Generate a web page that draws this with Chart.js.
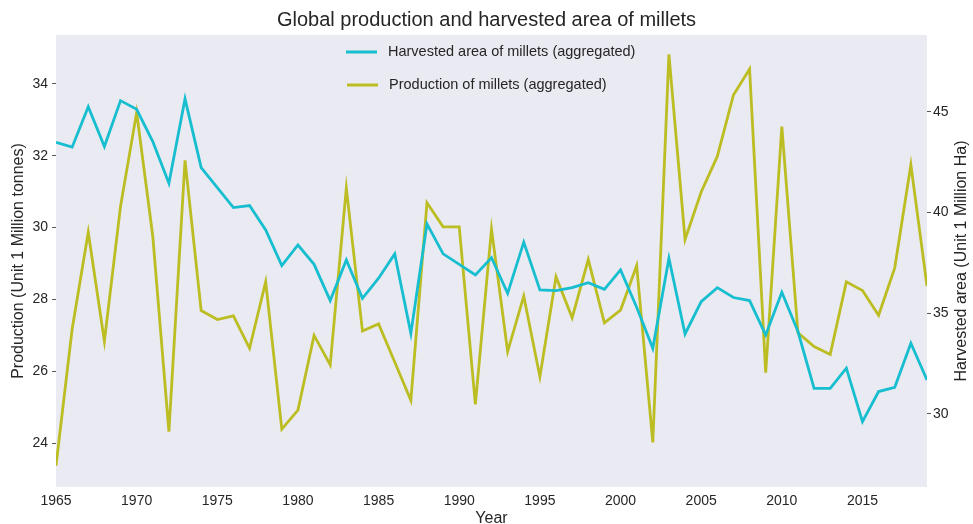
<!DOCTYPE html>
<html>
<head>
<meta charset="utf-8">
<script src="https://cdn.jsdelivr.net/npm/chart.js@4.4.1/dist/chart.umd.min.js"></script>
<style>
  html, body { margin: 0; padding: 0; background: #fff; }
  #wrap { width: 973px; height: 524px; }
</style>
</head>
<body>
<div id="wrap"><canvas id="chart" width="973" height="524"></canvas></div>
<script>
const years = [1965,1966,1967,1968,1969,1970,1971,1972,1973,1974,1975,1976,1977,1978,1979,1980,1981,1982,1983,1984,
               1985,1986,1987,1988,1989,1990,1991,1992,1993,1994,1995,1996,1997,1998,1999,2000,2001,2002,2003,2004,
               2005,2006,2007,2008,2009,2010,2011,2012,2013,2014,2015,2016,2017,2018,2019];

// harvested area, million ha (right axis)
const areaVals = [43.49,43.25,45.26,43.28,45.56,45.13,43.53,41.46,45.65,42.23,41.24,40.25,40.35,39.14,37.37,38.39,37.43,35.63,37.65,35.74,
                  36.74,37.95,34.00,39.44,37.95,37.43,36.90,37.76,35.99,38.53,36.16,36.12,36.27,36.52,36.19,37.15,35.30,33.26,37.73,33.97,
                  35.58,36.27,35.78,35.63,33.92,36.04,34.09,31.27,31.27,32.27,29.62,31.11,31.32,33.51,31.69];

// production, million tonnes (left axis)
const prodVals = [23.37,27.17,29.87,26.84,30.59,33.20,29.76,24.32,31.87,27.69,27.44,27.54,26.64,28.49,24.39,24.92,27.00,26.18,31.10,27.12,
                  27.32,26.26,25.19,30.69,30.02,30.02,25.08,29.96,26.55,28.09,25.85,28.63,27.49,29.11,27.35,27.70,28.94,24.02,34.82,29.67,
                  30.99,31.98,33.69,34.41,25.96,32.81,27.07,26.69,26.47,28.49,28.25,27.56,28.88,31.75,28.37];

const yearTicks = [1965,1970,1975,1980,1985,1990,1995,2000,2005,2010,2015];
const prodTicks = [24,26,28,30,32,34];
const areaTicks = [30,35,40,45];

const FONT = "Arial, 'Liberation Sans', sans-serif";
const INK = '#262626';
const rightTitle = 'Harvested area (Unit 1 Million Ha)';

const toPts = (vals) => vals.map((v, i) => ({ x: years[i], y: v }));
const useTicks = (arr) => (scale) => { scale.ticks = arr.map(v => ({ value: v })); };

// legend drawn inside the plot, like the matplotlib one
const innerLegend = {
  id: 'innerLegend',
  afterDraw(chart) {
    const ctx = chart.ctx;
    ctx.save();
    chart.data.datasets.forEach((ds, i) => {
      const y = 52 + i * 33;
      ctx.strokeStyle = ds.borderColor;
      ctx.lineWidth = 3;
      ctx.beginPath();
      ctx.moveTo(346 + i, y);
      ctx.lineTo(377 + i, y);
      ctx.stroke();
      ctx.fillStyle = INK;
      ctx.font = '14.5px ' + FONT;
      ctx.textBaseline = 'middle';
      ctx.fillText(ds.label, 388 + i, y);
    });
    ctx.restore();
  }
};

// right axis title reads bottom-to-top in the original
const rightAxisTitle = {
  id: 'rightAxisTitle',
  afterDraw(chart) {
    const ctx = chart.ctx, a = chart.chartArea;
    ctx.save();
    ctx.translate(962, (a.top + a.bottom) / 2);
    ctx.rotate(-Math.PI / 2);
    ctx.fillStyle = INK;
    ctx.font = '16px ' + FONT;
    ctx.textAlign = 'center';
    ctx.textBaseline = 'middle';
    ctx.fillText(rightTitle, 0, 0);
    ctx.restore();
  }
};

const plotBg = {
  id: 'plotBg',
  beforeDraw(chart) {
    const a = chart.chartArea;
    chart.ctx.save();
    chart.ctx.fillStyle = '#EAEAF2';
    chart.ctx.fillRect(a.left, a.top, a.right - a.left, a.bottom - a.top);
    chart.ctx.restore();
  }
};

new Chart(document.getElementById('chart'), {
  type: 'line',
  data: {
    datasets: [
      { label: 'Harvested area of millets (aggregated)', data: toPts(areaVals), yAxisID: 'y1',
        borderColor: '#17BECF', borderWidth: 2.8, pointRadius: 0, tension: 0 },
      { label: 'Production of millets (aggregated)', data: toPts(prodVals), yAxisID: 'y',
        borderColor: '#BCBD22', borderWidth: 2.8, pointRadius: 0, tension: 0 }
    ]
  },
  options: {
    responsive: false,
    animation: false,
    layout: { padding: 0 },
    plugins: {
      legend: { display: false },
      tooltip: { enabled: false },
      title: {
        display: true,
        text: 'Global production and harvested area of millets',
        color: INK,
        font: { family: FONT, size: 20, weight: 'normal' },
        padding: { top: 8, bottom: 3 }
      }
    },
    scales: {
      x: {
        type: 'linear', min: 1965, max: 2019,
        afterBuildTicks: useTicks(yearTicks),
        afterFit: (s) => { s.height = 37; },
        grid: { display: false, drawTicks: false },
        border: { display: false },
        ticks: { color: INK, padding: 6, font: { family: FONT, size: 14 }, callback: (v) => String(v), maxRotation: 0 },
        title: { display: true, text: 'Year', color: INK, font: { family: FONT, size: 16 }, padding: { top: 0, bottom: -4 } }
      },
      y: {
        position: 'left', min: 22.78, max: 35.36,
        afterBuildTicks: useTicks(prodTicks),
        afterFit: (s) => { s.width = 56; },
        grid: { display: true, drawOnChartArea: false, drawTicks: true, tickLength: 4, tickColor: '#555', tickWidth: 1 },
        border: { display: false },
        ticks: { color: INK, padding: 4, font: { family: FONT, size: 14 } },
        title: { display: true, text: 'Production (Unit 1 Million tonnes)', color: INK, font: { family: FONT, size: 16 }, padding: { top: 9, bottom: 0 } }
      },
      y1: {
        position: 'right', min: 26.37, max: 48.82,
        afterBuildTicks: useTicks(areaTicks),
        afterFit: (s) => { s.width = 46; },
        grid: { display: true, drawOnChartArea: false, drawTicks: true, tickLength: 4, tickColor: '#555', tickWidth: 1 },
        border: { display: false },
        ticks: { color: INK, padding: 2, font: { family: FONT, size: 14 } },
        title: { display: false }
      }
    }
  },
  plugins: [plotBg, innerLegend, rightAxisTitle]
});
</script>
</body>
</html>
